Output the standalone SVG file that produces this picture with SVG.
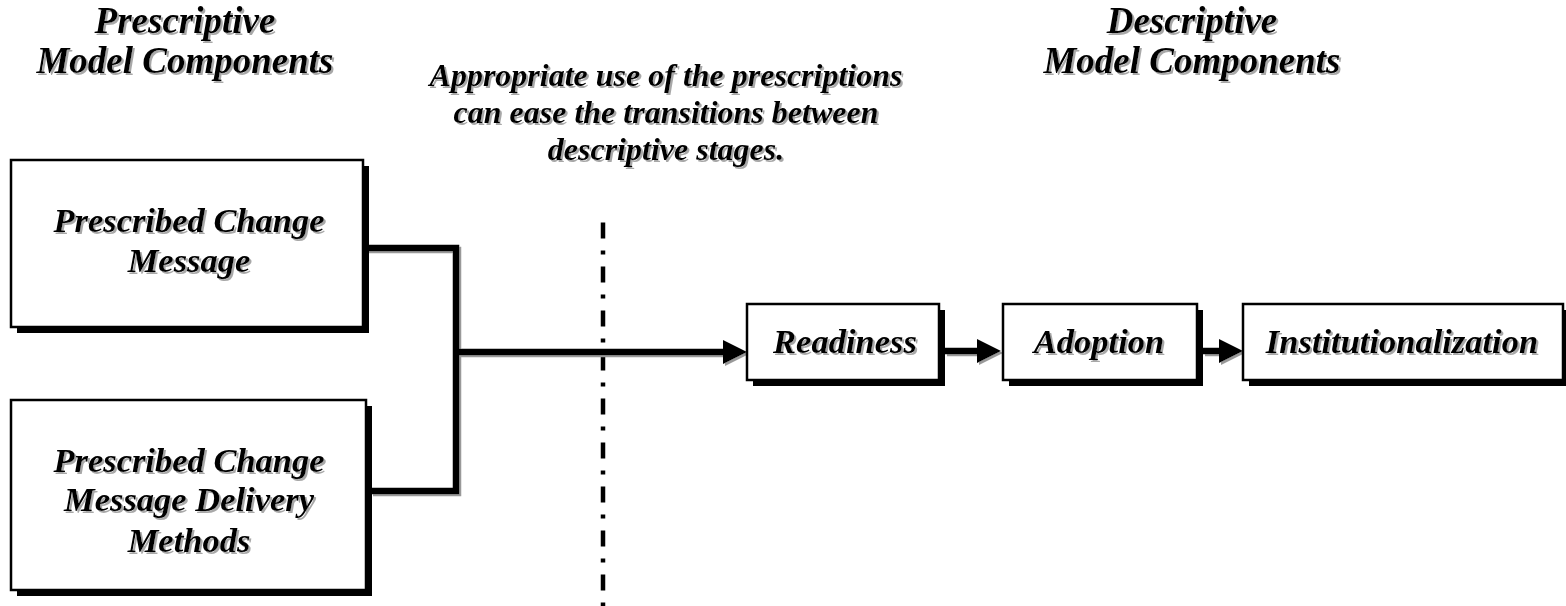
<svg xmlns="http://www.w3.org/2000/svg" width="1566" height="606" viewBox="0 0 1566 606">
  <style>
    .t { font-family: "Liberation Serif", "Times New Roman", serif; font-weight: bold; font-style: italic; fill: #000; text-anchor: middle; filter: url(#tshadow); }
    .title { font-size: 37px; }
    .note { font-size: 32px; }
    .lbl { font-size: 34.5px; }
    .box { fill: #fff; stroke: #000; stroke-width: 2.5; }
    .shadow { fill: #000; }
    .conn { fill: none; stroke: #000; stroke-width: 6.5; }
    .divider { fill: none; stroke: #000; stroke-width: 4.5; stroke-dasharray: 16 12 4 12; }
  </style>
  <defs>
    <filter id="tshadow" x="-10%" y="-30%" width="120%" height="160%">
      <feDropShadow dx="2" dy="2" stdDeviation="0.7" flood-color="#999" flood-opacity="0.85"/>
    </filter>
    <filter id="cshadow" x="-5%" y="-5%" width="110%" height="110%">
      <feDropShadow dx="2" dy="2" stdDeviation="0.4" flood-color="#999" flood-opacity="1"/>
    </filter>
    <marker id="arrow" markerUnits="userSpaceOnUse" markerWidth="28" markerHeight="28" viewBox="0 -14 28 28" refX="0" refY="0" orient="auto">
      <path d="M0,-12 L24,0 L0,12 Z" fill="#000"/>
    </marker>
  </defs>

  <rect width="1566" height="606" fill="#fff"/>

  <g id="titles">
    <text class="t title" x="185" y="33">Prescriptive</text>
    <text class="t title" x="185" y="73">Model Components</text>
    <text class="t title" x="1192" y="33">Descriptive</text>
    <text class="t title" x="1192" y="73">Model Components</text>
  </g>

  <g id="note">
    <text class="t note" x="666" y="86">Appropriate use of the prescriptions</text>
    <text class="t note" x="666" y="123">can ease the transitions between</text>
    <text class="t note" x="666" y="160">descriptive stages.</text>
  </g>

  <g id="connectors">
    <line class="divider" x1="603" y1="222.5" x2="603" y2="606"/>
    <g filter="url(#cshadow)">
      <path class="conn" d="M367,248 H456 V491 H371"/>
      <path class="conn" d="M456,352 H723" marker-end="url(#arrow)"/>
      <path class="conn" d="M945,351 H977" marker-end="url(#arrow)"/>
      <path class="conn" d="M1203,351 H1219" marker-end="url(#arrow)"/>
    </g>
  </g>

  <g id="node-message">
    <rect class="shadow" x="17" y="166" width="352" height="167"/>
    <rect class="box" x="11" y="160" width="352" height="167"/>
    <text class="t lbl" x="189" y="232">Prescribed Change</text>
    <text class="t lbl" x="189" y="272">Message</text>
  </g>

  <g id="node-delivery">
    <rect class="shadow" x="17" y="406" width="355" height="190"/>
    <rect class="box" x="11" y="400" width="355" height="190"/>
    <text class="t lbl" x="189" y="472">Prescribed Change</text>
    <text class="t lbl" x="189" y="511">Message Delivery</text>
    <text class="t lbl" x="189" y="552">Methods</text>
  </g>

  <g id="node-readiness">
    <rect class="shadow" x="753" y="310" width="192" height="76"/>
    <rect class="box" x="747" y="304" width="192" height="76"/>
    <text class="t lbl" x="845" y="353">Readiness</text>
  </g>

  <g id="node-adoption">
    <rect class="shadow" x="1009" y="310" width="194" height="76"/>
    <rect class="box" x="1003" y="304" width="194" height="76"/>
    <text class="t lbl" x="1099" y="353">Adoption</text>
  </g>

  <g id="node-institutionalization">
    <rect class="shadow" x="1249" y="310" width="320" height="76"/>
    <rect class="box" x="1243" y="304" width="320" height="76"/>
    <text class="t lbl" x="1402" y="353">Institutionalization</text>
  </g>
</svg>
